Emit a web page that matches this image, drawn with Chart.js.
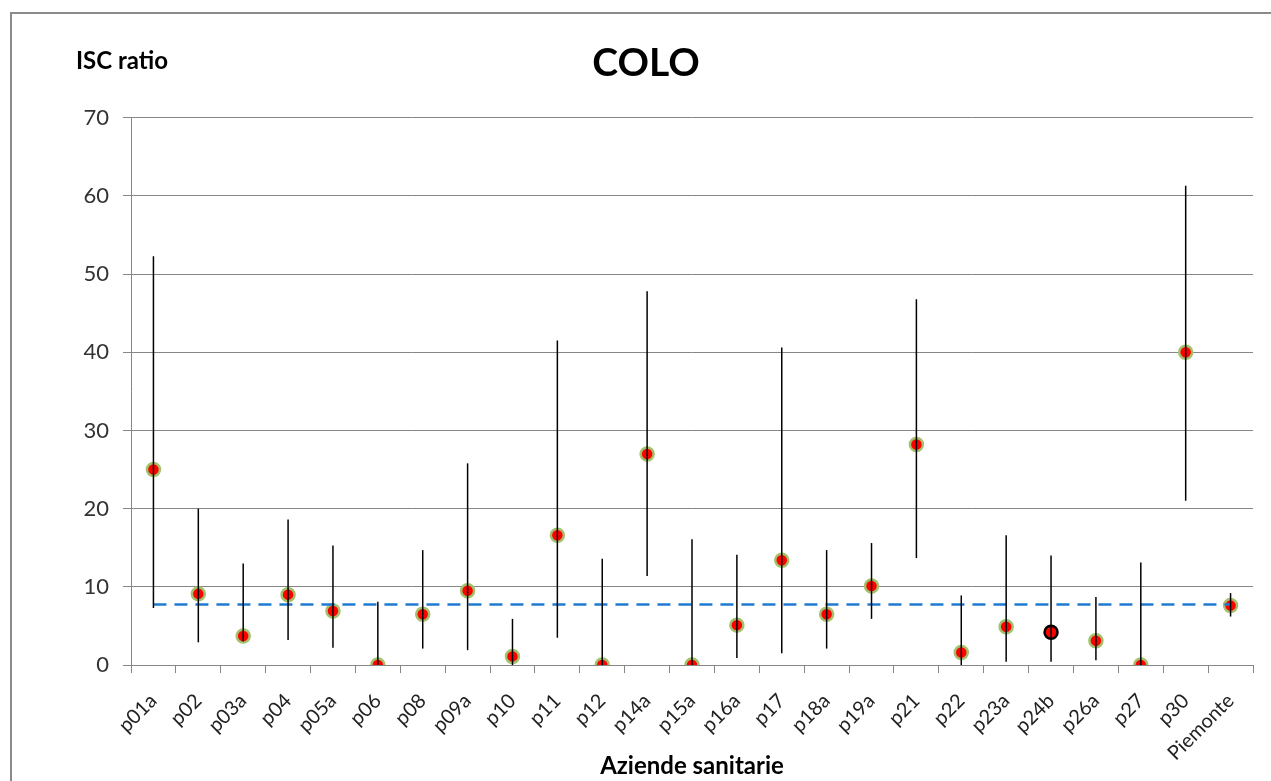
<!DOCTYPE html>
<html>
<head>
<meta charset="utf-8">
<script src="https://cdn.jsdelivr.net/npm/chart.js@4/dist/chart.umd.min.js"></script>
<style>
  html, body { margin:0; padding:0; width:1271px; height:781px; overflow:hidden; background:#fff; }
  #frame { position:absolute; left:10px; top:12px; width:1400px; height:900px; border:2px solid #8a8a8a; box-sizing:border-box; }
  #wrap { position:absolute; left:10px; top:12px; width:1272px; height:769px; }
</style>
</head>
<body>
<div id="frame"></div>
<div id="wrap"><canvas id="c"></canvas></div>
<script>
const categories = ['p01a','p02','p03a','p04','p05a','p06','p08','p09a','p10','p11','p12','p14a','p15a','p16a','p17','p18a','p19a','p21','p22','p23a','p24b','p26a','p27','p30','Piemonte'];
const iscRatio   = [25.0, 9.1, 3.7, 9.0, 6.9, 0, 6.5, 9.5, 1.1, 16.6, 0, 27.0, 0, 5.1, 13.4, 6.5, 10.1, 28.2, 1.6, 4.9, 4.2, 3.1, 0, 40.0, 7.6];
const lowerCI    = [7.3, 2.9, 3.0, 3.2, 2.2, 0, 2.1, 1.9, 0, 3.5, 0, 11.4, 0, 0.9, 1.5, 2.1, 5.9, 13.7, 0, 0.4, 0.4, 0.6, 0, 21.0, 6.2];
const upperCI    = [52.3, 20.0, 13.0, 18.6, 15.3, 8.1, 14.7, 25.8, 5.9, 41.5, 13.6, 47.8, 16.1, 14.1, 40.6, 14.7, 15.6, 46.8, 8.9, 16.6, 14.0, 8.7, 13.1, 61.3, 9.2];
const regionalValue = 7.75;
const highlighted = 'p24b';
const yTicks = [0, 10, 20, 30, 40, 50, 60, 70];

const regionalLine = categories.map(() => regionalValue);

const errorBars = {
  id: 'errorBars',
  afterDatasetsDraw(chart) {
    const {ctx, scales: {x, y}} = chart;
    ctx.save();
    ctx.strokeStyle = '#000';
    ctx.lineWidth = 1.5;
    categories.forEach((c, i) => {
      const px = x.getPixelForValue(i);
      ctx.beginPath();
      ctx.moveTo(px, y.getPixelForValue(upperCI[i]));
      ctx.lineTo(px, y.getPixelForValue(lowerCI[i]));
      ctx.stroke();
    });
    ctx.restore();
  }
};

const yLabel = {
  id: 'yLabel',
  afterDraw(chart) {
    const ctx = chart.ctx;
    ctx.save();
    ctx.font = 'bold 24px Lato';
    ctx.fillStyle = '#000';
    ctx.textBaseline = 'alphabetic';
    ctx.textAlign = 'left';
    ctx.fillText('ISC ratio', 66, 57);
    ctx.restore();
  }
};

new Chart(document.getElementById('c'), {
  type: 'line',
  data: {
    labels: categories,
    datasets: [
      {
        label: 'Piemonte',
        data: regionalLine,
        borderColor: '#1f7bd1',
        borderWidth: 2.5,
        borderDash: [13, 8],
        pointRadius: 0,
        fill: false
      },
      {
        label: 'ISC ratio',
        data: iscRatio,
        showLine: false,
        pointRadius: 6.5,
        pointBorderWidth: 2.5,
        pointBackgroundColor: '#ff0000',
        pointBorderColor: ctx => categories[ctx.dataIndex] === highlighted ? '#000000' : '#a3c16c'
      }
    ]
  },
  options: {
    responsive: true,
    maintainAspectRatio: false,
    animation: false,
    events: [],
    layout: { padding: { left: 29, right: 29, top: 0, bottom: 0 } },
    plugins: {
      legend: { display: false },
      tooltip: { enabled: false },
      title: {
        display: true,
        text: 'COLO',
        color: '#000',
        font: { family: 'Lato', size: 39, weight: 'bold' },
        padding: { top: 28, bottom: 31 }
      }
    },
    scales: {
      x: {
        type: 'category',
        offset: true,
        grid: { offset: true, drawOnChartArea: false, color: '#868686', tickLength: 8, lineWidth: 1 },
        border: { color: '#868686', width: 1 },
        ticks: {
          autoSkip: false, minRotation: 45, maxRotation: 45,
          font: { family: 'Lato', size: 20 }, color: '#222', padding: 16
        },
        title: {
          display: true, text: 'Aziende sanitarie', color: '#000',
          font: { family: 'Lato', size: 24, weight: 'bold' }, padding: { top: 0, bottom: 0 }
        },
        afterFit(scale) { scale.height = 116; }
      },
      y: {
        min: 0, max: 70,
        afterBuildTicks(scale) { scale.ticks = yTicks.map(v => ({ value: v })); },
        grid: { color: '#868686', tickLength: 8, lineWidth: 1 },
        border: { color: '#868686', width: 1 },
        ticks: { font: { family: 'Lato', size: 22 }, color: '#333', padding: 14 },
        afterFit(scale) { scale.width = 92; }
      }
    }
  },
  plugins: [errorBars, yLabel]
});
</script>
</body>
</html>
